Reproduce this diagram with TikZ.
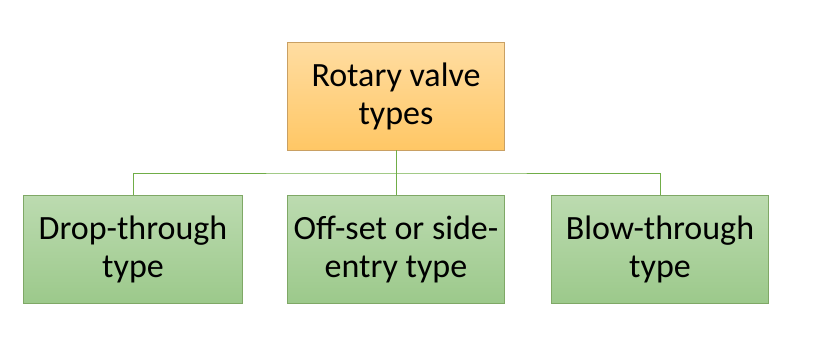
\documentclass[tikz,border=0pt]{standalone}
\usepackage{fontspec}
\setmainfont{Carlito}
\definecolor{orTop}{HTML}{FFDDA2}
\definecolor{orBot}{HTML}{FFC765}
\definecolor{orLine}{HTML}{C9A063}
\definecolor{grTop}{HTML}{BCDBB0}
\definecolor{grBot}{HTML}{9CC98B}
\definecolor{grLine}{HTML}{7FA866}
\definecolor{conn}{HTML}{70AD47}
\begin{document}
\begin{tikzpicture}[x=1pt,y=-1pt,
  boxbase/.style={draw, line width=0.8pt, minimum width=217pt, minimum height=108pt,
    align=center, font=\fontsize{34}{38}\selectfont, inner sep=0pt},
  topbox/.style={boxbase, draw=orLine, top color=orTop, bottom color=orBot},
  leafbox/.style={boxbase, draw=grLine, top color=grTop, bottom color=grBot},
  link/.style={draw=conn, line width=0.8pt}]
\useasboundingbox (0,0) rectangle (815,356);
\node[topbox] (root) at (396,96) {Rotary valve\\types};
\node[leafbox, minimum width=219pt] (a) at (133,249) {Drop-through\\type};
\node[leafbox] (b) at (396,249) {Off-set or side-\\entry type};
\node[leafbox] (c) at (660,249) {Blow-through\\type};
\coordinate (j) at (396,173);
\draw[link] (root.south) -- (j);
\draw[link] (a.north) |- (j) -| (c.north);
\draw[link] (j) -- (b.north);
\end{tikzpicture}
\end{document}
